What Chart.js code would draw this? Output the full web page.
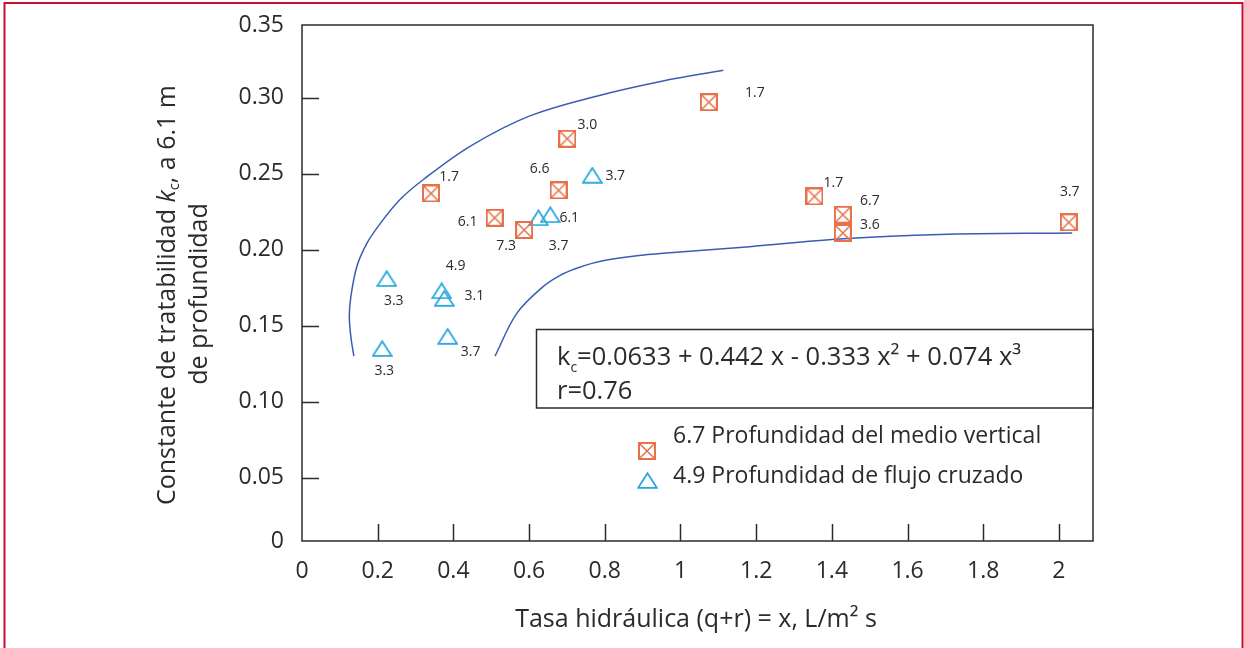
<!DOCTYPE html>
<html lang="es">
<head>
<meta charset="utf-8">
<title>Constante de tratabilidad vs tasa hidráulica</title>
<script src="https://cdn.jsdelivr.net/npm/chart.js@4.4.0/dist/chart.umd.min.js"></script>
<style>
  html, body { margin:0; padding:0; background:#fff; }
  #wrap { position:relative; width:1244px; height:648px; }
</style>
</head>
<body>
<div id="wrap"><canvas id="grafico" width="1244" height="648"></canvas></div>
<script>
// ================= DATOS ==================
// medio vertical (cuadros)
const VERT_X = [0.341, 0.509, 0.587, 0.678, 0.701, 1.075, 1.354, 1.429, 1.429, 2.026];
const VERT_Y = [0.237, 0.221, 0.213, 0.239, 0.273, 0.297, 0.235, 0.223, 0.211, 0.218];
const VERT_DEPTH = ["1.7", "6.1", "7.3", "6.6", "3.0", "1.7", "1.7", "6.7", "3.6", "3.7"];

// flujo cruzado (triangulos)
const CROSS_X = [0.212, 0.224, 0.369, 0.376, 0.385, 0.625, 0.656, 0.767];
const CROSS_Y = [0.135, 0.181, 0.173, 0.168, 0.143, 0.221, 0.223, 0.249];
const CROSS_DEPTH = ["3.3", "3.3", "4.9", "3.1", "3.7", "3.7", "6.1", "3.7"];

// envolventes
const UPPER_X = [0.137, 0.129, 0.125, 0.129, 0.145, 0.171, 0.206, 0.259, 0.320, 0.444, 0.602, 0.778, 0.954, 1.113];
const UPPER_Y = [0.130, 0.143, 0.156, 0.169, 0.189, 0.204, 0.217, 0.233, 0.246, 0.268, 0.288, 0.301, 0.311, 0.318];
const LOWER_X = [0.510, 0.567, 0.637, 0.681, 0.726, 0.766, 0.805, 0.880, 0.954, 1.183, 1.421, 1.685, 2.035];
const LOWER_Y = [0.130, 0.158, 0.1757, 0.183, 0.1878, 0.1910, 0.1932, 0.1958, 0.1976, 0.202, 0.207, 0.210, 0.211];

// ejes
const X_TICKS = [0, 0.2, 0.4, 0.6, 0.8, 1, 1.2, 1.4, 1.6, 1.8, 2];
const X_TICK_LABELS = ["0", "0.2", "0.4", "0.6", "0.8", "1", "1.2", "1.4", "1.6", "1.8", "2"];
const Y_TICKS = [0, 0.05, 0.10, 0.15, 0.20, 0.25, 0.30, 0.35];
const Y_TICK_LABELS = ["0", "0.05", "0.10", "0.15", "0.20", "0.25", "0.30", "0.35"];

const LEGEND_TEXT = ["6.7 Profundidad del medio vertical", "4.9 Profundidad de flujo cruzado"];

// ================= ESTILO ==================
const FONT = "'Open Sans', 'Noto Sans', sans-serif";
const ORANGE = "#e8704a";
const CYAN = "#27a9df";
const BLUE = "#3a5db3";
const INK = "#2b2b2b";
const X_MAX = 2.09;
const Y_MIN = 0.0084, Y_MAX = 0.3478;
const TICK_LEN = 17;

// desplazamiento de las etiquetas de profundidad (px)
const VERT_OFF = [[18,-16],[-27,4],[-18,16],[-19,-21],[20,-14],[46,-9],[19,-13],[27,-14],[27,-8],[1,-30]];
const CROSS_OFF = [[2,22],[7,22],[14,-25],[30,-2],[23,16],[20,28],[19,3],[23,1]];

// ============== MARCADORES ==============
function makeSquare(size){
  const c = document.createElement("canvas");
  c.width = size; c.height = size;
  const g = c.getContext("2d");
  g.strokeStyle = ORANGE; g.lineWidth = 2;
  g.strokeRect(1, 1, size-2, size-2);
  g.lineWidth = 1.5;
  g.beginPath();
  g.moveTo(2, 2); g.lineTo(size-2, size-2);
  g.moveTo(size-2, 2); g.lineTo(2, size-2);
  g.stroke();
  return c;
}
function makeTriangle(w, h){
  const c = document.createElement("canvas");
  c.width = w; c.height = h;
  const g = c.getContext("2d");
  g.strokeStyle = CYAN; g.lineWidth = 1.8;
  g.beginPath();
  g.moveTo(w/2, 1.2); g.lineTo(w-1.2, h-1.2); g.lineTo(1.2, h-1.2);
  g.closePath();
  g.stroke();
  return c;
}
const SQUARE_IMG = makeSquare(18);
const TRI_IMG = makeTriangle(21, 17);

const pts = (xs, ys) => xs.map((x, i) => ({ x, y: ys[i] }));

// ============== DECORACION ==============
function drawRuns(ctx, runs, cx, cy){
  // runs: [texto, fuente, desplazamiento y]
  let total = 0;
  runs.forEach(r => { ctx.font = r[1]; total += ctx.measureText(r[0]).width; });
  let x = cx - total/2;
  ctx.textAlign = "left";
  runs.forEach(r => {
    ctx.font = r[1];
    ctx.fillText(r[0], x, cy + r[2]);
    x += ctx.measureText(r[0]).width;
  });
}

const decor = {
  id: "decor",
  afterDraw(chart){
    const { ctx, chartArea: a, scales: { x, y } } = chart;
    ctx.save();

    // marco del grafico
    ctx.strokeStyle = INK; ctx.lineWidth = 1.5;
    ctx.strokeRect(a.left, a.top, a.right - a.left, a.bottom - a.top);

    // marcas hacia dentro
    ctx.beginPath();
    x.ticks.forEach((t, i) => {
      if (i === 0) return;
      const px = Math.round(x.getPixelForValue(t.value)) + 0.5;
      ctx.moveTo(px, a.bottom); ctx.lineTo(px, a.bottom - TICK_LEN);
    });
    y.ticks.forEach((t, i) => {
      if (i === 0 || i === y.ticks.length - 1) return;
      const py = Math.round(y.getPixelForValue(t.value)) + 0.5;
      ctx.moveTo(a.left, py); ctx.lineTo(a.left + TICK_LEN, py);
    });
    ctx.stroke();

    // etiquetas de profundidad
    ctx.fillStyle = INK;
    ctx.font = "14px " + FONT;
    ctx.textAlign = "center"; ctx.textBaseline = "middle";
    const lab = [[0, VERT_DEPTH, VERT_OFF], [1, CROSS_DEPTH, CROSS_OFF]];
    lab.forEach(([di, texts, offs]) => {
      chart.getDatasetMeta(di).data.forEach((p, j) => {
        ctx.fillText(texts[j], p.x + offs[j][0], p.y + offs[j][1]);
      });
    });

    // caja de la ecuacion
    ctx.lineWidth = 1.5; ctx.strokeStyle = INK;
    ctx.strokeRect(536.5, 329.5, a.right - 536.5, 78.5);
    ctx.textBaseline = "alphabetic"; ctx.textAlign = "left";
    ctx.font = "25.5px " + FONT;
    let ex = 557;
    ctx.fillText("k", ex, 365); ex += ctx.measureText("k").width;
    ctx.font = "14px " + FONT;
    ctx.fillText("c", ex, 372); ex += ctx.measureText("c").width;
    ctx.font = "25.5px " + FONT;
    ctx.fillText("=0.0633 + 0.442 x - 0.333 x\u00b2 + 0.074 x\u00b3", ex, 365);
    ctx.fillText("r=0.76", 557, 399);

    // leyenda
    ctx.drawImage(SQUARE_IMG, 638, 442);
    ctx.drawImage(TRI_IMG, 637, 472);
    ctx.font = "23px " + FONT;
    ctx.fillText(LEGEND_TEXT[0], 673, 443);
    ctx.fillText(LEGEND_TEXT[1], 673, 483);

    // titulo eje x
    ctx.textAlign = "center";
    ctx.font = "25px " + FONT;
    ctx.fillText("Tasa hidr\u00e1ulica (q+r) = x, L/m\u00b2 s", 696, 627);

    // titulo eje y (rotado)
    ctx.save();
    ctx.translate(168, 295);
    ctx.rotate(-Math.PI/2);
    ctx.textBaseline = "middle";
    drawRuns(ctx, [
      ["Constante de tratabilidad ", "25px " + FONT, 0],
      ["k", "italic 25px " + FONT, 0],
      ["c", "15px " + FONT, 7],
      [", a 6.1 m", "25px " + FONT, 0]
    ], 0, 0);
    ctx.restore();
    ctx.save();
    ctx.translate(200, 294);
    ctx.rotate(-Math.PI/2);
    ctx.textBaseline = "middle";
    ctx.textAlign = "center";
    ctx.font = "25px " + FONT;
    ctx.fillText("de profundidad", 0, 0);
    ctx.restore();

    // marco rojo exterior
    ctx.strokeStyle = "#c8102e"; ctx.lineWidth = 2;
    ctx.beginPath();
    ctx.moveTo(4.5, 648); ctx.lineTo(4.5, 3); ctx.lineTo(1242.5, 3); ctx.lineTo(1242.5, 648);
    ctx.stroke();

    ctx.restore();
  }
};

// ============== GRAFICO ==============
Chart.defaults.font.family = FONT;
Chart.defaults.color = INK;

new Chart(document.getElementById("grafico").getContext("2d"), {
  type: "scatter",
  data: {
    datasets: [
      { label: LEGEND_TEXT[0], data: pts(VERT_X, VERT_Y), pointStyle: SQUARE_IMG, showLine: false },
      { label: LEGEND_TEXT[1], data: pts(CROSS_X, CROSS_Y), pointStyle: TRI_IMG, showLine: false },
      { label: "sup", data: pts(UPPER_X, UPPER_Y), showLine: true, borderColor: BLUE, borderWidth: 1.5, pointRadius: 0, tension: 0.35, fill: false },
      { label: "inf", data: pts(LOWER_X, LOWER_Y), showLine: true, borderColor: BLUE, borderWidth: 1.5, pointRadius: 0, tension: 0.35, fill: false }
    ]
  },
  options: {
    responsive: false, animation: false,
    layout: { padding: { left: 0, top: 25, right: 151, bottom: 0 } },
    plugins: { legend: { display: false }, tooltip: { enabled: false } },
    scales: {
      x: {
        type: "linear", min: 0, max: X_MAX,
        grid: { display: false }, border: { display: false },
        afterBuildTicks: s => { s.ticks = X_TICKS.map(v => ({ value: v })); },
        afterFit: s => { s.height = 107; },
        ticks: { padding: 9, maxRotation: 0, autoSkip: false, font: { size: 23 }, color: INK,
          callback: (v, i) => X_TICK_LABELS[i] }
      },
      y: {
        type: "linear", min: Y_MIN, max: Y_MAX,
        grid: { display: false }, border: { display: false },
        afterBuildTicks: s => { s.ticks = Y_TICKS.map(v => ({ value: Math.min(Math.max(v, Y_MIN), Y_MAX) })); },
        afterFit: s => { s.width = 302; },
        ticks: { padding: 10, autoSkip: false, font: { size: 23 }, color: INK,
          callback: (v, i) => Y_TICK_LABELS[i] }
      }
    }
  },
  plugins: [decor]
});
</script>
</body>
</html>
